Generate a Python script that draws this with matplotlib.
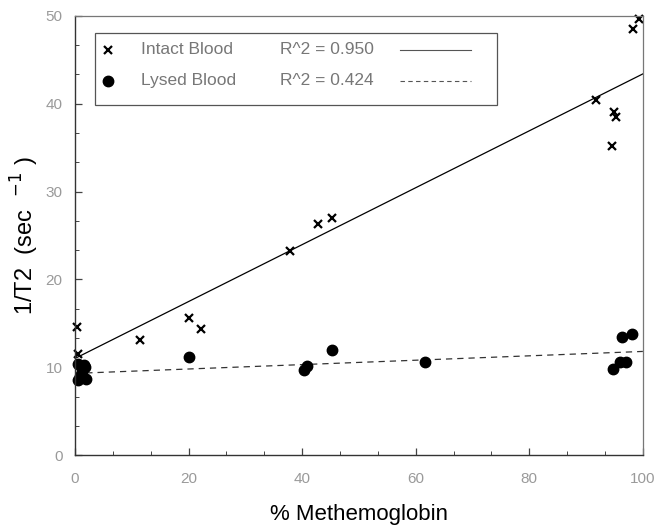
import numpy as np
import matplotlib
matplotlib.use('Agg')
import matplotlib.pyplot as plt
from matplotlib.patches import Rectangle
from matplotlib.ticker import MultipleLocator

plt.rcParams['font.family'] = ['Liberation Sans', 'DejaVu Sans']

# intact blood (x markers)
intact_x = [0.3, 0.5, 11.4, 20.0, 22.2, 37.9, 42.8, 45.2, 91.7, 94.5, 94.9, 95.2, 98.2, 99.4]
intact_y = [14.6, 11.5, 13.1, 15.6, 14.4, 23.2, 26.3, 27.0, 40.4, 35.2, 39.1, 38.5, 48.5, 49.6]

# lysed blood (filled circles)
lysed_x = [0.5, 0.8, 1.2, 1.6, 2.0, 0.5, 1.8, 20.0, 40.3, 40.8, 45.2, 61.6, 94.7, 96.0, 97.0, 96.3, 98.0]
lysed_y = [10.4, 9.0, 9.6, 10.2, 8.7, 8.5, 10.0, 11.2, 9.7, 10.1, 12.0, 10.6, 9.8, 10.6, 10.6, 13.4, 13.8]

# regression lines (intercept, slope) as drawn in the figure
intact_fit = (11.0, 0.324)
lysed_fit = (9.3, 0.025)
intact_r2 = '0.950'
lysed_r2 = '0.424'

fig = plt.figure(figsize=(6.58, 5.31), dpi=100)
ax = fig.add_axes([0.114, 0.143, 0.863, 0.827])

xs = np.array([0, 100])
ax.plot(xs, intact_fit[0] + intact_fit[1] * xs, color='black', lw=0.9)
ax.plot(xs, lysed_fit[0] + lysed_fit[1] * xs, color='#333333', lw=0.9, ls=(0, (5, 4)))

ax.plot(intact_x, intact_y, ls='none', marker='x', ms=5.5, mew=1.6, color='black', clip_on=False)
ax.plot(lysed_x, lysed_y, ls='none', marker='o', ms=7.5, color='black', clip_on=False)

ax.set_xlim(0, 100)
ax.set_ylim(0, 50)
ax.xaxis.set_major_locator(MultipleLocator(20))
ax.xaxis.set_minor_locator(MultipleLocator(20 / 3))
ax.yaxis.set_major_locator(MultipleLocator(10))
ax.yaxis.set_minor_locator(MultipleLocator(10 / 3))
ax.tick_params(which='both', direction='in', color='#444444', labelcolor='#9a9a9a',
               labelsize=11)
ax.tick_params(axis='x', pad=12)
ax.tick_params(axis='y', pad=9)
ax.tick_params(which='major', length=5, width=0.9)
ax.tick_params(which='minor', length=3, width=0.7)
for side in ['top', 'right']:
    ax.spines[side].set_color('#777777')
    ax.spines[side].set_linewidth(0.9)
for side in ['left', 'bottom']:
    ax.spines[side].set_color('#333333')
    ax.spines[side].set_linewidth(1.0)

ax.set_xlabel('% Methemoglobin', fontsize=16, labelpad=13)
ax.set_ylabel('1/T2  (sec  $^{-1}$ )', fontsize=17, labelpad=3)

# legend box
tr = ax.transAxes
ax.add_patch(Rectangle((0.035, 0.797), 0.708, 0.164, transform=tr, fill=False,
                       ec='#555555', lw=0.9))
rows = [(0.923, 'x', 'Intact Blood', intact_r2, '-'),
        (0.852, 'o', 'Lysed Blood', lysed_r2, (0, (4, 3)))]
for y, mk, name, r2, ls in rows:
    if mk == 'x':
        ax.plot([0.058], [y], marker='x', ms=5.5, mew=1.6, color='black', transform=tr)
    else:
        ax.plot([0.058], [y], marker='o', ms=7.5, color='black', transform=tr)
    ax.text(0.116, y, name, transform=tr, va='center', fontsize=12.5, color='#777777')
    ax.text(0.361, y, 'R^2 = ' + r2, transform=tr, va='center', fontsize=12.5, color='#777777')
    ax.plot([0.572, 0.697], [y, y], ls=ls, color='#555555', lw=0.8, transform=tr)

fig.savefig('out.png', dpi=100)
